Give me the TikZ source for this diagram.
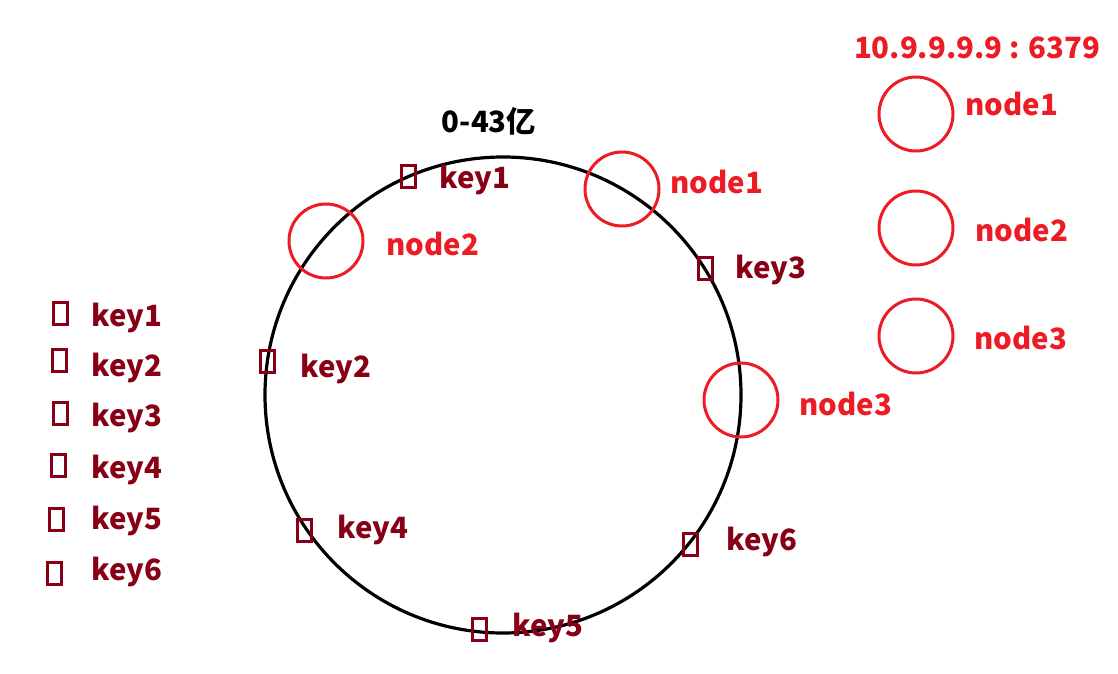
\documentclass[tikz,border=0pt]{standalone}
\usepackage{fontspec}
\setmainfont{Noto Sans CJK SC}
\definecolor{paintred}{RGB}{237,28,36}
\definecolor{paintdark}{RGB}{136,0,21}
\begin{document}
\begin{tikzpicture}[x=0.75pt,y=-0.75pt,
    keybox/.style={draw=paintdark,line width=2.25pt,minimum width=10.5pt,minimum height=16.5pt,inner sep=0pt},
    keylab/.style={text=paintdark,font=\fontsize{22}{26}\selectfont\bfseries},
    srvcirc/.style={circle,draw=paintred,line width=2.25pt,minimum size=55.5pt,inner sep=0pt},
    srvlab/.style={text=paintred,font=\fontsize{22}{26}\selectfont\bfseries}]
  \useasboundingbox (0,0) rectangle (1118,674);
  \node (ring) at (503,395) [circle,draw,line width=2.4pt,minimum size=357pt,inner sep=0pt] {};
  \node (title) at (489,121) {\fontsize{22}{26}\selectfont\bfseries 0-43亿};
  \node (ip) at (977,48) [srvlab] {10.9.9.9.9 : 6379};
  % nodes on the ring
  \node (n1) at (622,189) [srvcirc] {}; \node (n1l) at (717,182) [srvlab] {node1};
  \node (n2) at (326,241) [srvcirc] {}; \node (n2l) at (433,244) [srvlab] {node2};
  \node (n3) at (741,400) [srvcirc] {}; \node (n3l) at (846,404) [srvlab] {node3};
  % keys on the ring
  \node (k1) at (408,176) [keybox] {}; \node (k1l) at (475,180) [keylab] {key1};
  \node (k2) at (267,361) [keybox] {}; \node (k2l) at (336,369) [keylab] {key2};
  \node (k3) at (705,268) [keybox] {}; \node (k3l) at (771,270) [keylab] {key3};
  \node (k4) at (304,530) [keybox] {}; \node (k4l) at (373,530) [keylab] {key4};
  \node (k5) at (479,629) [keybox] {}; \node (k5l) at (548,628) [keylab] {key5};
  \node (k6) at (690,544) [keybox] {}; \node (k6l) at (762,542) [keylab] {key6};
  % servers
  \node (s1) at (916,114) [srvcirc] {}; \node (s1l) at (1012,104) [srvlab] {node1};
  \node (s2) at (916,228) [srvcirc] {}; \node (s2l) at (1022,230) [srvlab] {node2};
  \node (s3) at (916,336) [srvcirc] {}; \node (s3l) at (1021,338) [srvlab] {node3};
  % key list
  \node (a1) at (60,313) [keybox] {}; \node (a1l) at (127,318) [keylab] {key1};
  \node (a2) at (59,360) [keybox] {}; \node (a2l) at (127,368) [keylab] {key2};
  \node (a3) at (60,413) [keybox] {}; \node (a3l) at (127,418) [keylab] {key3};
  \node (a4) at (58,465) [keybox] {}; \node (a4l) at (127,470) [keylab] {key4};
  \node (a5) at (56,519) [keybox] {}; \node (a5l) at (127,521) [keylab] {key5};
  \node (a6) at (54,573) [keybox] {}; \node (a6l) at (127,572) [keylab] {key6};
\end{tikzpicture}
\end{document}
